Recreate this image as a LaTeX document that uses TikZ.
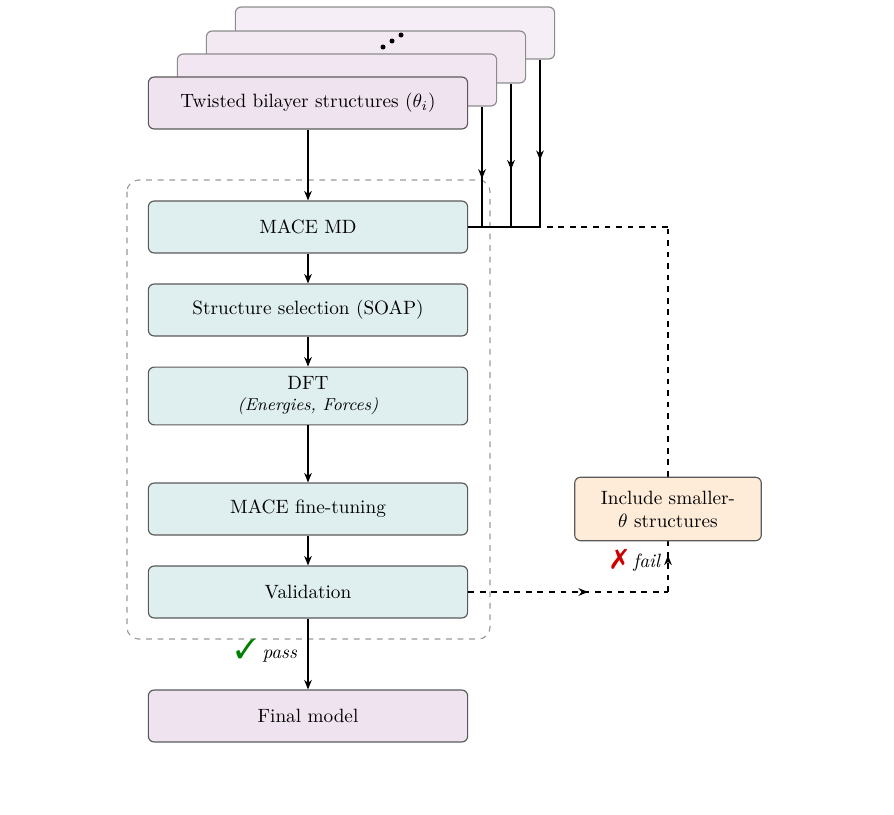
\documentclass[tikz,border=0pt]{standalone}
\usepackage{amsmath,pifont}
\usetikzlibrary{decorations.markings,arrows.meta}
\definecolor{stackfill}{HTML}{F0E3F0}
\definecolor{stepfill}{HTML}{DFEFEF}
\definecolor{addfill}{HTML}{FEEBD8}
\tikzstyle{wfbox}=[draw=black!65, rounded corners=3pt, text centered,
    minimum width=166pt, minimum height=27pt, fill=stepfill]
\tikzstyle{ghost}=[draw=black!45, rounded corners=3pt,
    minimum width=166pt, minimum height=27pt]
\tikzstyle{flow}=[-{Stealth[length=5pt,width=4pt]}]
\tikzstyle{midarrow}=[postaction={decorate},decoration={markings,
    mark=at position #1 with {\arrow{Stealth[length=5pt,width=4pt]}}}]
\begin{document}
\begin{tikzpicture}[x=0.52pt,y=-0.52pt,line width=0.6pt]
  \useasboundingbox (0,0) rectangle (894,815);
  % stacked structures
  \node[ghost, fill=stackfill!60] at (395,33) (s3) {};
  \node[ghost, fill=stackfill!80] at (366,57) (s2) {};
  \node[ghost, fill=stackfill!90] at (337,80) (s1) {};
  \node[wfbox, fill=stackfill] at (308,103) (tw) {Twisted bilayer structures ($\theta_i$)};
  \fill (383,47) circle (1.3pt) (392,41) circle (1.3pt) (401,35) circle (1.3pt);
  % workflow
  \node[wfbox] at (308,227) (md) {MACE MD};
  \node[wfbox] at (308,310) (sel) {Structure selection (SOAP)};
  \node[wfbox, minimum height=30pt, align=center] at (308,396) (dft)
     {DFT\\[-1pt]{\small\itshape (Energies, Forces)}};
  \node[wfbox] at (308,509) (ft) {MACE fine-tuning};
  \node[wfbox] at (308,592) (val) {Validation};
  \node[wfbox, fill=stackfill] at (308,716) (fin) {Final model};
  \draw[black!40, dashed, rounded corners=6pt] (127,180) rectangle (490,639);
  % connectors
  \draw[flow] (tw) -- (md);
  \draw[flow] (md) -- (sel);
  \draw[flow] (sel) -- (dft);
  \draw[flow] (dft) -- (ft);
  \draw[flow] (ft) -- (val);
  \draw[flow] (val) -- (fin) node[pos=0.45, left, xshift=-2pt]
     {\textcolor{green!50!black}{\Large\ding{51}} \textit{pass}};
  \coordinate (j1) at (482,227);
  \coordinate (j2) at (511,227);
  \coordinate (j3) at (540,227);
  \coordinate (c1) at (668,592);
  \coordinate (c2) at (668,227);
  \draw[midarrow=0.6] (s1.south -| j1) -- (j1);
  \draw[midarrow=0.6] (s2.south -| j2) -- (j2);
  \draw[midarrow=0.6] (s3.south -| j3) -- (j3);
  \draw (md.east) -- (j3);
  \begin{scope}[dashed]
    \draw[midarrow=0.6] (val.east) -- (c1);
    \draw[midarrow=0.1] (c1) -- (c2);
    \draw (c2) -- (j3);
  \end{scope}
  \node[draw=black!65, rounded corners=3pt, fill=addfill, align=center,
     minimum width=97pt, minimum height=33pt] at (668,509) (inc)
     {Include smaller-\\$\theta$ structures};
  \node[left] at (668,560) (fail) {\textcolor{red!80!black}{\Large\ding{55}} \textit{fail}};
\end{tikzpicture}
\end{document}
